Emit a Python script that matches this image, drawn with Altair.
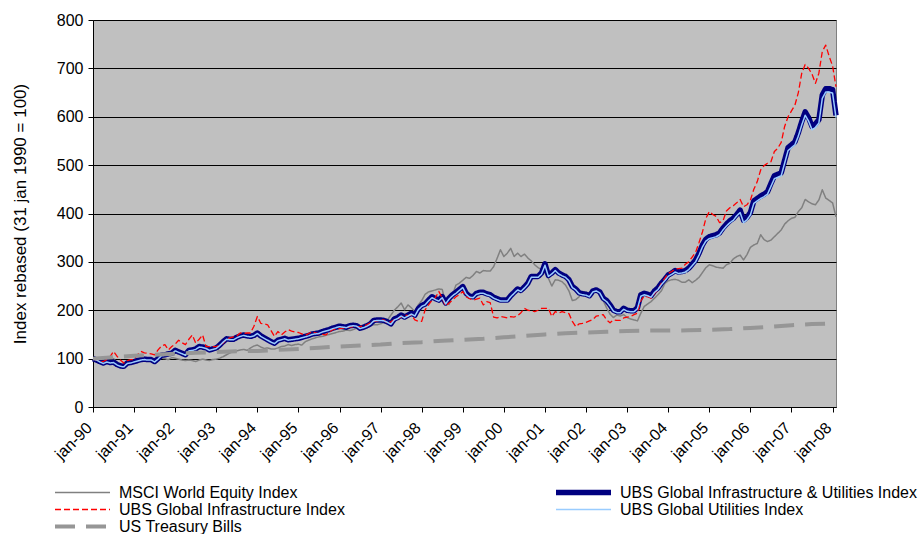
import altair as alt
import pandas as pd

tick_labels = ["jan-90", "jan-91", "jan-92", "jan-93", "jan-94", "jan-95", "jan-96",
               "jan-97", "jan-98", "jan-99", "jan-00", "jan-01", "jan-02", "jan-03",
               "jan-04", "jan-05", "jan-06", "jan-07", "jan-08"]
tick_months = [0, 12, 24, 36, 48, 60, 72, 84, 96, 108, 120, 132, 144, 156, 168, 180, 192, 204, 216]

series_names = ["MSCI World Equity Index",
                "UBS Global Infrastructure & Utilities Index",
                "UBS Global Infrastructure Index",
                "UBS Global Utilities Index",
                "US Treasury Bills"]

# monthly values, month 0 = jan-90
msci = [100, 97, 96, 99, 101, 103, 100, 92, 85, 86, 88, 89, 90, 94, 98, 99, 101, 99, 98, 99,
        101, 100, 98, 102, 101, 99, 97, 96, 97, 96, 94, 97, 99, 97, 96, 98, 99, 101, 104, 108,
        112, 114, 116, 118, 119, 117, 122, 126, 128, 124, 121, 122, 120, 120, 122, 125, 126, 129, 127, 129,
        130, 128, 135, 138, 141, 143, 145, 146, 148, 150, 152, 154, 156, 157, 159, 158, 160, 163, 160, 162,
        166, 168, 170, 170, 172, 175, 180, 190, 200, 207, 215, 201, 211, 205, 197, 211, 220, 233, 238, 240,
        242, 244, 243, 215, 212, 232, 252, 256, 262, 268, 266, 272, 280, 277, 282, 281, 281, 290, 307, 325,
        311, 318, 328, 311, 318, 311, 316, 308, 302, 294, 288, 284, 277, 266, 250, 263, 262, 259, 252, 240,
        220, 222, 228, 239, 237, 235, 242, 244, 236, 220, 205, 192, 185, 190, 188, 191, 185, 182, 180, 178,
        194, 208, 213, 218, 225, 232, 240, 255, 261, 263, 264, 262, 258, 258, 263, 257, 262, 268, 278, 288,
        294, 292, 289, 288, 287, 294, 297, 306, 311, 314, 304, 315, 330, 335, 338, 356, 346, 342, 345, 352,
        359, 366, 378, 385, 390, 392, 404, 412, 429, 424, 420, 418, 428, 449, 432, 427, 422, 393]

infra_util = [100, 97, 94, 91, 94, 92, 93, 88, 85, 84, 91, 92, 94, 96, 98, 99, 98, 98, 94, 100,
              107, 108, 110, 111, 117, 114, 111, 108, 117, 118, 120, 125, 124, 122, 118, 120, 122, 128, 135, 141,
              140, 140, 144, 147, 149, 147, 146, 148, 153, 147, 143, 139, 135, 132, 138, 140, 142, 139, 140, 141,
              142, 144, 146, 148, 151, 152, 153, 156, 158, 160, 163, 165, 167, 166, 165, 168, 169, 168, 163, 165,
              168, 172, 179, 180, 180, 179, 176, 172, 182, 185, 190, 186, 190, 194, 190, 203, 210, 213, 221, 228,
              224, 221, 228, 215, 225, 232, 237, 243, 249, 235, 229, 228, 235, 237, 237, 234, 232, 227, 224, 221,
              221, 221, 230, 237, 244, 241, 248, 256, 270, 270, 270, 277, 296, 272, 277, 284, 277, 273, 270, 263,
              249, 244, 236, 234, 233, 230, 240, 242, 238, 225, 220, 211, 200, 197, 197, 204, 200, 199, 199, 205,
              232, 235, 233, 230, 240, 246, 256, 264, 273, 277, 282, 279, 280, 282, 287, 295, 304, 318, 335, 347,
              352, 354, 356, 360, 370, 378, 385, 390, 398, 407, 386, 392, 402, 426, 431, 436, 440, 445, 462, 478,
              481, 484, 510, 536, 542, 548, 567, 590, 610, 598, 580, 585, 594, 645, 658, 658, 656, 603]

infra = [100, 97, 95, 94, 98, 104, 115, 105, 97, 91, 96, 98, 98, 108, 115, 112, 111, 110, 108, 118,
         126, 129, 118, 125, 130, 138, 133, 129, 140, 149, 132, 140, 149, 125, 125, 125, 125, 128, 132, 140,
         143, 145, 147, 153, 152, 153, 153, 167, 187, 173, 172, 170, 158, 146, 156, 149, 155, 160, 157, 155,
         154, 151, 148, 152, 156, 153, 151, 150, 149, 155, 160, 161, 162, 163, 164, 165, 166, 166, 166, 168,
         170, 174, 177, 178, 180, 180, 173, 176, 180, 182, 186, 190, 189, 190, 180, 177, 177, 201, 211, 221,
         226, 239, 225, 209, 215, 221, 228, 232, 239, 228, 224, 221, 223, 225, 211, 218, 216, 186, 184, 187,
         186, 184, 187, 186, 189, 195, 204, 200, 199, 197, 200, 204, 204, 204, 187, 197, 194, 197, 195, 193,
         177, 166, 172, 173, 175, 178, 181, 188, 189, 191, 180, 174, 180, 179, 179, 184, 186, 187, 191, 194,
         220, 229, 228, 225, 235, 242, 256, 266, 276, 280, 285, 286, 287, 295, 300, 310, 320, 340, 362, 390,
         404, 398, 394, 381, 385, 405, 412, 416, 422, 429, 414, 418, 428, 450, 466, 490, 499, 504, 507, 528,
         535, 547, 580, 600, 612, 624, 650, 690, 708, 700, 688, 669, 690, 735, 748, 725, 705, 662]

utilities = [100, 97, 93, 90, 93, 91, 92, 87, 84, 83, 90, 91, 93, 95, 97, 98, 97, 97, 93, 99,
             106, 107, 109, 110, 116, 113, 110, 107, 116, 117, 119, 124, 123, 121, 117, 119, 121, 127, 134, 140,
             139, 139, 143, 146, 148, 146, 145, 147, 152, 146, 142, 138, 134, 131, 137, 139, 141, 138, 139, 140,
             141, 143, 145, 147, 150, 151, 152, 155, 157, 159, 162, 164, 166, 165, 164, 167, 168, 167, 162, 164,
             167, 171, 178, 179, 179, 178, 175, 171, 180, 183, 188, 184, 188, 192, 188, 201, 208, 211, 219, 226,
             222, 219, 226, 213, 223, 230, 235, 241, 247, 233, 227, 226, 233, 235, 235, 232, 230, 225, 222, 219,
             219, 219, 228, 235, 242, 239, 246, 254, 268, 268, 268, 275, 293, 270, 275, 282, 275, 271, 268, 261,
             247, 242, 234, 232, 231, 228, 238, 240, 236, 223, 218, 209, 198, 195, 195, 202, 198, 197, 197, 203,
             229, 232, 230, 227, 237, 243, 253, 261, 270, 274, 279, 276, 277, 279, 284, 292, 300, 314, 331, 343,
             348, 350, 352, 356, 366, 374, 381, 386, 395, 402, 381, 387, 397, 421, 426, 431, 435, 440, 456, 472,
             475, 478, 504, 530, 536, 542, 560, 583, 603, 591, 573, 578, 587, 638, 651, 651, 649, 598]

tbill_months = [0, 6, 12, 18, 24, 30, 36, 42, 48, 54, 60, 66, 72, 78, 84, 90, 96, 102, 108, 114,
                120, 126, 132, 138, 144, 150, 156, 162, 168, 174, 180, 186, 192, 198, 204, 210, 217]
tbills = [100, 103, 106, 108, 110, 112, 113.5, 115, 116, 118, 120, 122.5, 125, 127, 129, 132, 134, 137, 139, 141,
          144, 147, 150, 152.5, 154, 155.5, 157, 158, 158, 158.5, 159.5, 161, 163.5, 166, 169, 171.5, 173]

colors = ["#808080", "#000080", "#FF0000", "#99CCFF", "#969696"]
dashes = [[1, 0], [1, 0], [6, 3], [1, 0], [20, 11]]
widths = [1.5, 5.5, 1.3, 1.5, 4]

rows = []
for name, vals in [(series_names[0], msci), (series_names[1], infra_util),
                   (series_names[2], infra), (series_names[3], utilities)]:
    for m, v in enumerate(vals):
        rows.append({"series": name, "month": m, "value": v})
for m, v in zip(tbill_months, tbills):
    rows.append({"series": series_names[4], "month": m, "value": v})
df = pd.DataFrame(rows)

FONT = "Liberation Sans"
label_expr = "[" + ",".join("'%s'" % t for t in tick_labels) + "][round(datum.value / 12)]"

legend = alt.Legend(
    title=None, orient="none", legendX=-41, legendY=464, columns=2, direction="horizontal",
    columnPadding=208, rowPadding=0, symbolType="stroke", symbolSize=3025,
    clipHeight=17, labelFont=FONT, labelFontSize=16, labelColor="black",
    labelOffset=6, labelLimit=400,
)

x_enc = alt.X("month:Q", scale=alt.Scale(domain=[0, 217], nice=False, zero=False),
              axis=alt.Axis(values=tick_months, labelExpr=label_expr, labelAngle=-45,
                            labelAlign="right", labelBaseline="middle", labelPadding=13,
                            labelOffset=-4,
                            labelFont=FONT, labelFontSize=16, labelColor="black",
                            tickColor="black", tickSize=5, domainColor="black",
                            grid=False, title=None, labelOverlap=False, labelFlush=False))
y_enc = alt.Y("value:Q", scale=alt.Scale(domain=[0, 800], nice=False),
              axis=alt.Axis(values=list(range(0, 801, 100)), title="Index rebased (31 jan 1990 = 100)",
                            titleFont=FONT, titleFontSize=17, titleFontWeight="normal",
                            titleColor="black", titlePadding=27,
                            labelFont=FONT, labelFontSize=16, labelColor="black", labelPadding=5,
                            tickColor="black", tickSize=5, domainColor="black",
                            grid=True, gridColor="black", gridWidth=1))

layers = []
for name in series_names:
    layers.append(
        alt.Chart(df).transform_filter(alt.datum.series == name)
        .mark_line(strokeJoin="round", strokeCap="butt")
        .encode(
            x=x_enc, y=y_enc,
            color=alt.Color("series:N", scale=alt.Scale(domain=series_names, range=colors), legend=legend),
            strokeDash=alt.StrokeDash("series:N", scale=alt.Scale(domain=series_names, range=dashes), legend=legend),
            strokeWidth=alt.StrokeWidth("series:N", scale=alt.Scale(type="ordinal", domain=series_names, range=widths), legend=legend),
        )
    )

chart = alt.layer(*layers).properties(
    width=743, height=387,
    padding={"left": 93, "top": 20, "right": 88, "bottom": 127},
    autosize=alt.AutoSizeParams(type="none"),
    background="white",
).configure_view(fill="#C0C0C0", stroke="#808080", strokeWidth=1)

chart.save("out.html", embed_options={"renderer": "svg", "actions": False})
